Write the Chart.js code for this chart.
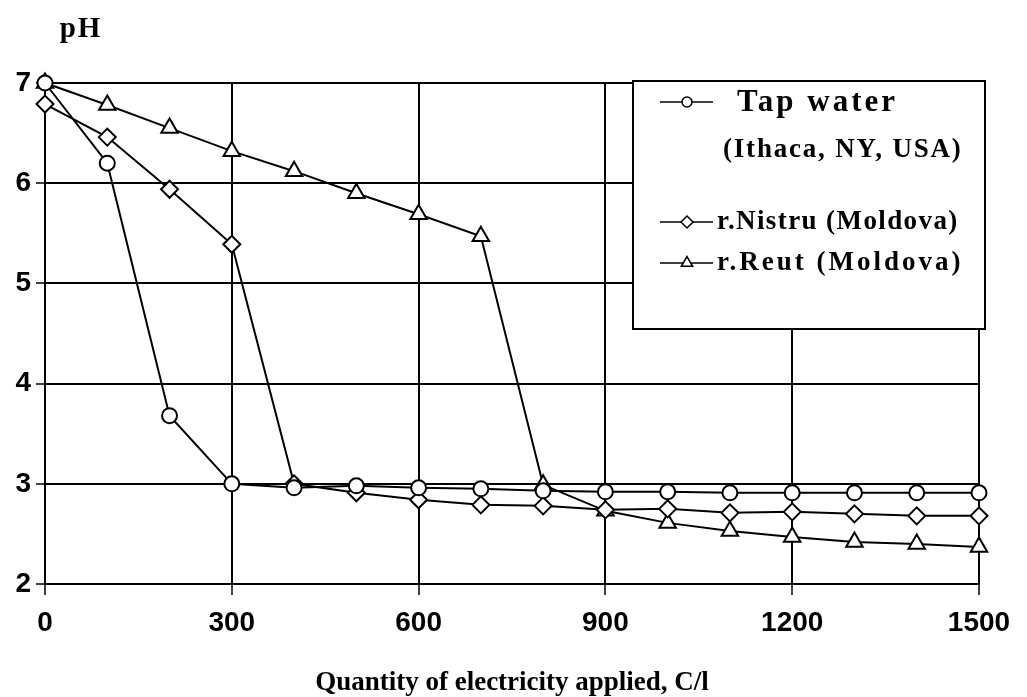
<!DOCTYPE html>
<html>
<head>
<meta charset="utf-8">
<title>pH vs quantity of electricity</title>
<script src="https://cdn.jsdelivr.net/npm/chart.js@4.4.0/dist/chart.umd.min.js"></script>
<style>
  html, body { margin: 0; padding: 0; background: #fff; }
  #wrap { position: relative; width: 1027px; height: 697px; }
</style>
</head>
<body>
<div id="wrap"><canvas id="chartPh"></canvas></div>
<script>
// pH of water vs. quantity of electricity applied (C/l)

var xValues = [0, 100, 200, 300, 400, 500, 600, 700, 800, 900, 1000, 1100, 1200, 1300, 1400, 1500];
var tapWater = [7.0, 6.2, 3.68, 3.0, 2.96, 2.98, 2.96, 2.95, 2.93, 2.92, 2.92, 2.91, 2.91, 2.91, 2.91, 2.91];
var nistru = [6.79, 6.46, 5.94, 5.39, 3.0, 2.91, 2.84, 2.79, 2.78, 2.74, 2.75, 2.71, 2.72, 2.70, 2.68, 2.68];
var reut = [7.0, 6.78, 6.55, 6.32, 6.12, 5.9, 5.69, 5.47, 2.99, 2.73, 2.61, 2.53, 2.47, 2.42, 2.4, 2.37];

var seriesLabels = ['Tap water', 'r.Nistru (Moldova)', 'r.Reut (Moldova)'];
var tapSubLabel = '(Ithaca, NY, USA)';
var xTitle = 'Quantity of electricity applied, C/l';
var yTitle = 'pH';

var serif = "'Liberation Serif', 'Times New Roman', serif";
var sans = "'Liberation Sans', Arial, sans-serif";

function pts(ys) {
    return ys.map(function (y, i) { return { x: xValues[i], y: y }; });
}

function serie(label, ys, style, r) {
    return {
        label: label,
        data: pts(ys),
        borderColor: '#000',
        borderWidth: 2,
        backgroundColor: '#fff',
        pointStyle: style,
        pointRadius: r,
        pointBorderWidth: 2,
        pointBackgroundColor: '#fff',
        pointBorderColor: '#000',
        tension: 0,
        clip: false
    };
}

// titles + legend box drawn on the canvas
var extrasPlugin = {
    id: 'extras',
    afterDraw: function (chart) {
        var ctx = chart.ctx;
        ctx.save();
        ctx.fillStyle = '#000';
        ctx.textBaseline = 'alphabetic';
        ctx.textAlign = 'center';

        ctx.font = 'bold 29px ' + serif;
        ctx.letterSpacing = '2px';
        ctx.fillText(yTitle, 81, 37);

        ctx.letterSpacing = '0px';
        ctx.font = 'bold 27px ' + serif;
        ctx.fillText(xTitle, 512, 690);

        // legend
        var bx = 633, by = 81, bw = 352, bh = 248;
        ctx.fillStyle = '#fff';
        ctx.fillRect(bx, by, bw, bh);
        ctx.strokeStyle = '#000';
        ctx.lineWidth = 2;
        ctx.strokeRect(bx, by, bw, bh);

        var rows = [
            { y: 102, ds: 0, r: 5 },
            { y: 222, ds: 1, r: 6 },
            { y: 263, ds: 2, r: 6.5 }
        ];
        rows.forEach(function (row) {
            var ds = chart.data.datasets[row.ds];
            ctx.beginPath();
            ctx.lineWidth = 1.5;
            ctx.moveTo(660, row.y);
            ctx.lineTo(713, row.y);
            ctx.stroke();
            ctx.fillStyle = '#fff';
            ctx.strokeStyle = '#000';
            Chart.helpers.drawPoint(ctx, { pointStyle: ds.pointStyle, radius: row.r, rotation: 0, borderWidth: 1.5 }, 687, row.y);
        });

        ctx.fillStyle = '#000';
        ctx.textAlign = 'left';
        ctx.textBaseline = 'middle';
        ctx.font = 'bold 31px ' + serif;
        ctx.letterSpacing = '3px';
        ctx.fillText(seriesLabels[0], 737, 103);
        ctx.font = 'bold 27px ' + serif;
        ctx.letterSpacing = '1.8px';
        ctx.fillText(tapSubLabel, 723, 150);
        ctx.letterSpacing = '1.4px';
        ctx.fillText(seriesLabels[1], 717, 222);
        ctx.letterSpacing = '3px';
        ctx.fillText(seriesLabels[2], 717, 263);
        ctx.restore();
    }
};

var chartPh = new Chart(document.getElementById('chartPh'), {
    type: 'line',
    data: {
        datasets: [
            serie(seriesLabels[0], tapWater, 'circle', 7.5),
            serie(seriesLabels[1], nistru, 'rectRot', 8.5),
            serie(seriesLabels[2], reut, 'triangle', 9.5)
        ]
    },
    options: {
        responsive: true,
        maintainAspectRatio: false,
        animation: false,
        layout: { padding: { top: 83, right: 48, left: 0, bottom: 0 } },
        plugins: {
            legend: { display: false },
            tooltip: { enabled: false },
            title: { display: false }
        },
        scales: {
            x: {
                type: 'linear',
                min: 0,
                max: 1500,
                afterFit: function (s) { s.height = 113; },
                border: { display: true, color: '#000', width: 2 },
                grid: { color: '#000', lineWidth: 2, tickLength: 11, tickColor: '#000', tickWidth: 1.5 },
                ticks: {
                    stepSize: 300,
                    color: '#000',
                    padding: 11,
                    maxRotation: 0,
                    font: { family: sans, size: 28, weight: 'bold' },
                    callback: function (v) { return String(v); }
                }
            },
            y: {
                min: 2,
                max: 7,
                afterFit: function (s) { s.width = 45; },
                border: { display: true, color: '#000', width: 2 },
                grid: { color: '#000', lineWidth: 2, tickLength: 9, tickColor: '#000', tickWidth: 1.5 },
                ticks: {
                    stepSize: 1,
                    color: '#000',
                    padding: 5,
                    font: { family: sans, size: 28, weight: 'bold' }
                }
            }
        }
    },
    plugins: [extrasPlugin]
});
</script>
</body>
</html>
